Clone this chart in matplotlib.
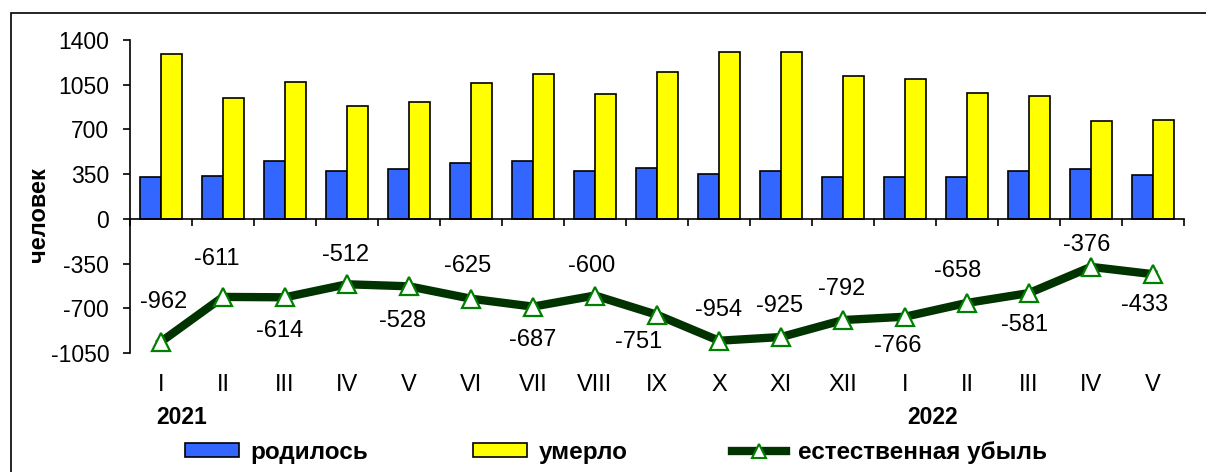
import matplotlib
matplotlib.use("Agg")
import matplotlib.pyplot as plt
from matplotlib.patches import Rectangle, Patch
from matplotlib.lines import Line2D

plt.rcParams['font.family'] = ['Liberation Sans', 'DejaVu Sans']
plt.rcParams['axes.unicode_minus'] = False

# данные
months = ['I', 'II', 'III', 'IV', 'V', 'VI', 'VII', 'VIII', 'IX', 'X', 'XI', 'XII',
          'I', 'II', 'III', 'IV', 'V']
born = [328, 338, 455, 375, 390, 435, 450, 378, 395, 355, 378, 327, 325, 325, 378, 388, 344]
died = [1290, 949, 1069, 887, 918, 1060, 1137, 978, 1146, 1309, 1303, 1119, 1091, 983, 959, 764, 777]
decrease = [-962, -611, -614, -512, -528, -625, -687, -600, -751, -954, -925, -792,
            -766, -658, -581, -376, -433]
years = ['2021', '2022']
year_pos = [0.34, 12.45]

# смещения подписей (пиксели)
lab_dx = [3, -6, -5, -1, -6, -3, 0, -3, -18, 0, -1, -1, -7, -9, -4, -4, -8]
lab_dy = [40, 38, -34, 29, -35, 33, -33, 30, -27, 31, 31, 31, -29, 32, -32, 22, -31]

W, H = 1206, 472
fig = plt.figure(figsize=(W / 100, H / 100), dpi=100)
ax = fig.add_axes([130 / W, 1 - 353 / H, (1184 - 130) / W, (353 - 40) / H])

x = list(range(len(months)))
bw = 0.34
ax.bar([i - 0.17 for i in x], born, bw, color='#3366ff', edgecolor='black', linewidth=1.2, zorder=2)
ax.bar([i + 0.17 for i in x], died, bw, color='#ffff00', edgecolor='black', linewidth=1.2, zorder=2)
ax.plot(x, decrease, color='#003300', linewidth=6, marker='^', markersize=13,
        markerfacecolor='white', markeredgecolor='#008000', markeredgewidth=1.6, zorder=3)

for i, v in enumerate(decrease):
    ax.annotate(str(v), (i, v), xytext=(lab_dx[i], lab_dy[i]), textcoords='offset pixels',
                ha='center', va='center', fontsize=17)

ax.set_xlim(-0.5, len(months) - 0.5)
ax.set_ylim(-1050, 1400)
ax.set_yticks([1400, 1050, 700, 350, 0, -350, -700, -1050])
ax.tick_params(axis='y', labelsize=16.5, length=5, width=1.2, pad=10)
ax.set_xticks([i - 0.5 for i in range(len(months) + 1)])
ax.set_xticklabels([])
ax.tick_params(axis='x', length=5, width=1.2, direction='out')
ax.spines['bottom'].set_position(('data', 0))
ax.spines['bottom'].set_linewidth(1.2)
ax.spines['left'].set_linewidth(1.2)
ax.spines['top'].set_visible(False)
ax.spines['right'].set_visible(False)

for i, m in enumerate(months):
    ax.annotate(m, (i, 0), xycoords=('data', 'axes fraction'), xytext=(0, -32),
                textcoords='offset pixels', ha='center', va='center', fontsize=17)
for yr, p in zip(years, year_pos):
    ax.annotate(yr, (p, 0), xycoords=('data', 'axes fraction'), xytext=(0, -65),
                textcoords='offset pixels', ha='center', va='center', fontsize=16.5,
                fontweight='bold')

fig.text(38 / W, 1 - 215 / H, 'человек', rotation=90, ha='center', va='center',
         fontsize=17, fontweight='bold')

handles = [Patch(facecolor='#3366ff', edgecolor='black', linewidth=1.2),
           Patch(facecolor='#ffff00', edgecolor='black', linewidth=1.2),
           Line2D([], [], color='#003300', linewidth=6, marker='^', markersize=10,
                  markerfacecolor='white', markeredgecolor='#008000', markeredgewidth=1.5)]
fig.legend(handles, ['родилось', 'умерло', 'естественная убыль'], loc='center',
           bbox_to_anchor=(616 / W, 1 - 452 / H), ncol=3, frameon=False,
           prop={'size': 17.5, 'weight': 'bold'}, handlelength=2.2, handleheight=0.5,
           handletextpad=0.5, columnspacing=4.3)

# рамка вокруг диаграммы
fig.add_artist(Rectangle((10.5 / W, -0.05), 1.1, 1.05 - 12.5 / H, transform=fig.transFigure,
                         fill=False, edgecolor='black', linewidth=1.2, clip_on=False))

fig.savefig('out.png', dpi=100)
